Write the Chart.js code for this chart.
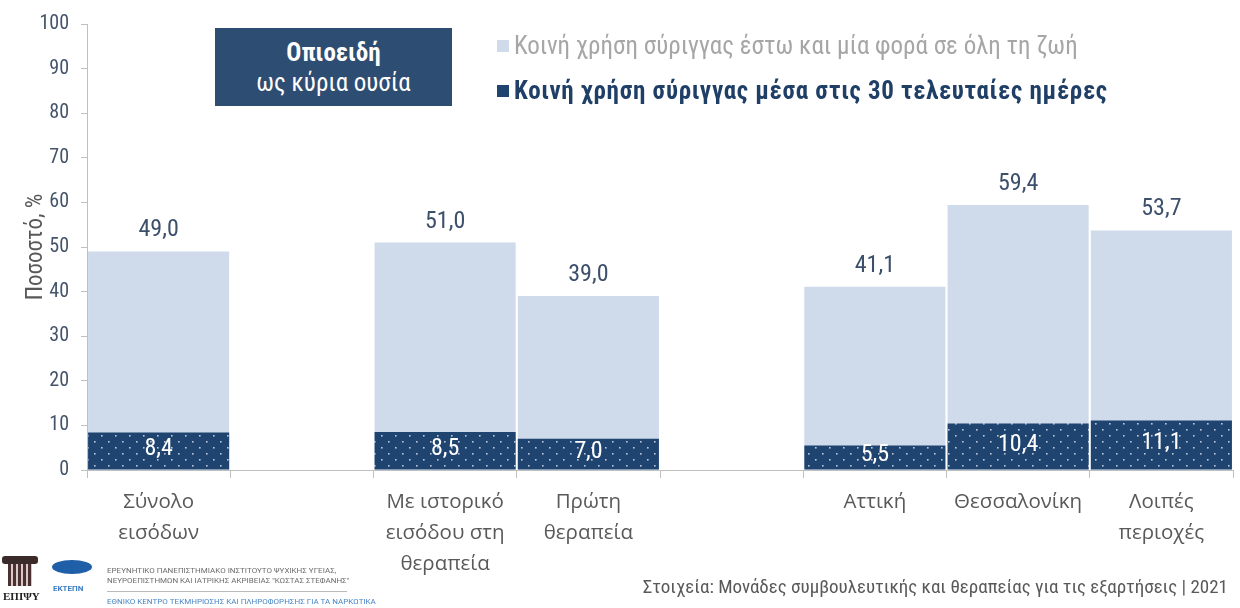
<!DOCTYPE html>
<html>
<head>
<meta charset="utf-8">
<script src="https://cdn.jsdelivr.net/npm/chart.js@4"></script>
<style>
  html, body { margin: 0; padding: 0; background: #fff; }
  #wrap { position: relative; width: 1240px; height: 608px; overflow: hidden; }
  canvas { position: absolute; left: 0; top: 0; }
  .narrow { font-family: "Liberation Sans Narrow", "Roboto Condensed", Roboto, sans-serif; }
  #box { position: absolute; left: 215px; top: 28px; width: 237px; height: 78px; background: #2e4d73; color: #fff; text-align: center; }
  #box .t1 { font-weight: bold; font-size: 25px; margin-top: 10px; line-height: 30px; }
  #box .t2 { font-size: 25px; line-height: 30px; }
  .leg { position: absolute; left: 497px; font-size: 25px; white-space: nowrap; }
  .leg i { display: inline-block; width: 12px; height: 12px; margin-right: 5px; vertical-align: 2px; }
  #src { position: absolute; right: 12px; top: 575px; font-size: 19px; color: #595959; }
  #inst { position: absolute; left: 107px; top: 566px; font-size: 8px; color: #6d6d6d; line-height: 10px; white-space: nowrap; font-family: "Liberation Sans Narrow", Roboto, sans-serif; }
  #inst .ek { border-top: 1px solid #bbb; margin-top: 5px; padding-top: 5px; width: 240px; color: #4a86c5; }
</style>
</head>
<body>
<div id="wrap">
  <canvas id="c" width="1240" height="608"></canvas>
  <div id="box" class="narrow"><div class="t1">Οπιοειδή</div><div class="t2">ως κύρια ουσία</div></div>
  <div class="leg narrow" style="top:31px;color:#a6a6a6"><i style="background:#cfdbeb"></i>Κοινή χρήση σύριγγας έστω και μία φορά σε όλη τη ζωή</div>
  <div class="leg narrow" style="top:76px;color:#1f3f66;font-weight:bold;letter-spacing:0.7px"><i style="background:#1f4470"></i>Κοινή χρήση σύριγγας μέσα στις 30 τελευταίες ημέρες</div>
  <div id="src" class="narrow">Στοιχεία: Μονάδες συμβουλευτικής και θεραπείας για τις εξαρτήσεις | 2021</div>
  <div id="inst">ΕΡΕΥΝΗΤΙΚΟ ΠΑΝΕΠΙΣΤΗΜΙΑΚΟ ΙΝΣΤΙΤΟΥΤΟ ΨΥΧΙΚΗΣ ΥΓΕΙΑΣ,<br>ΝΕΥΡΟΕΠΙΣΤΗΜΩΝ ΚΑΙ ΙΑΤΡΙΚΗΣ ΑΚΡΙΒΕΙΑΣ "ΚΩΣΤΑΣ ΣΤΕΦΑΝΗΣ"<div class="ek">ΕΘΝΙΚΟ ΚΕΝΤΡΟ ΤΕΚΜΗΡΙΩΣΗΣ ΚΑΙ ΠΛΗΡΟΦΟΡΗΣΗΣ ΓΙΑ ΤΑ ΝΑΡΚΩΤΙΚΑ</div></div>
  <div style="position:absolute;left:2px;top:556px;width:36px;height:8px;background:#3a2a2a;border-radius:3px"></div>
  <div style="position:absolute;left:8px;top:564px;width:24px;height:22px;background:repeating-linear-gradient(90deg,#4a3030 0 3px,#d8c8c8 3px 5px)"></div>
  <div style="position:absolute;left:3px;top:590px;font:bold 11px 'Liberation Serif',serif;color:#222">ΕΠΙΨΥ</div>
  <div style="position:absolute;left:52px;top:560px;width:40px;height:14px;border-radius:50%;background:#1f5fa8"></div>
  <div style="position:absolute;left:53px;top:584px;font:bold 8px Roboto,sans-serif;color:#3b7dc4">ΕΚΤΕΠΝ</div>
</div>
<script>
const categories = [['Σύνολο', 'εισόδων'], '', ['Με ιστορικό', 'εισόδου στη', 'θεραπεία'], ['Πρώτη', 'θεραπεία'], '', 'Αττική', 'Θεσσαλονίκη', ['Λοιπές', 'περιοχές']];
const everValues = [49.0, null, 51.0, 39.0, null, 41.1, 59.4, 53.7];
const last30Values = [8.4, null, 8.5, 7.0, null, 5.5, 10.4, 11.1];
const yTicks = [0, 10, 20, 30, 40, 50, 60, 70, 80, 90, 100];

const NARROW = '"Liberation Sans Narrow", "Roboto Condensed", Roboto, sans-serif';

// dotted fill for the dark bars
function dotPattern(ctx) {
    const p = document.createElement('canvas');
    p.width = 14; p.height = 12;
    const g = p.getContext('2d');
    g.fillStyle = '#1f4470';
    g.fillRect(0, 0, 14, 12);
    g.fillStyle = 'rgba(225,235,248,0.8)';
    g.fillRect(3, 3, 1.6, 1.6);
    g.fillRect(10, 9, 1.6, 1.6);
    return ctx.createPattern(p, 'repeat');
}

const fmt = v => v.toFixed(1).replace('.', ',');

const valueLabels = {
    id: 'valueLabels',
    afterDatasetsDraw(chart) {
        const ctx = chart.ctx;
        ctx.save();
        ctx.textAlign = 'center';
        ctx.textBaseline = 'middle';
        ctx.font = '24px ' + NARROW;
        chart.getDatasetMeta(0).data.forEach((bar, i) => {
            const v = everValues[i];
            if (v == null) return;
            ctx.fillStyle = '#3c4f6b';
            ctx.fillText(fmt(v), bar.x, bar.y - 21);
        });
        chart.getDatasetMeta(1).data.forEach((bar, i) => {
            const v = last30Values[i];
            if (v == null) return;
            ctx.fillStyle = '#ffffff';
            ctx.fillText(fmt(v), bar.x, (bar.y + bar.base) / 2 - 2);
        });
        ctx.restore();
    }
};

const ctx = document.getElementById('c').getContext('2d');
new Chart(ctx, {
    type: 'bar',
    data: {
        labels: categories,
        datasets: [
            {
                label: 'Κοινή χρήση σύριγγας έστω και μία φορά σε όλη τη ζωή',
                data: everValues,
                backgroundColor: '#cfdbeb',
                order: 2
            },
            {
                label: 'Κοινή χρήση σύριγγας μέσα στις 30 τελευταίες ημέρες',
                data: last30Values,
                backgroundColor: dotPattern(ctx),
                order: 1
            }
        ]
    },
    options: {
        responsive: false,
        animation: false,
        layout: { padding: { left: 0, right: 7, top: 22, bottom: 0 } },
        datasets: { bar: { barPercentage: 1, categoryPercentage: 0.985 } },
        plugins: {
            legend: { display: false },
            tooltip: { enabled: false }
        },
        scales: {
            x: {
                stacked: true,
                grid: { display: true, drawOnChartArea: false, offset: true, color: '#bfbfbf', tickLength: 8 },
                border: { color: '#bfbfbf' },
                ticks: {
                    color: '#595959',
                    font: { family: '"Open Sans", "Noto Sans", sans-serif', size: 20.5, lineHeight: 1.5 },
                    padding: 9,
                    maxRotation: 0,
                    autoSkip: false
                },
                afterFit: s => { s.height = 138; }
            },
            y: {
                min: 0,
                max: 100,
                afterBuildTicks: s => { s.ticks = yTicks.map(v => ({ value: v })); },
                grid: { display: true, drawOnChartArea: false, color: '#bfbfbf', tickLength: 6 },
                border: { color: '#bfbfbf' },
                ticks: {
                    color: '#44546a',
                    font: { family: NARROW, size: 20 },
                    padding: 12
                },
                title: {
                    display: true,
                    text: 'Ποσοστό, %',
                    color: '#595959',
                    font: { family: NARROW, size: 23 },
                    padding: { top: 22, bottom: 0 }
                },
                afterFit: s => { s.width = 87; }
            }
        }
    },
    plugins: [valueLabels]
});
</script>
</body>
</html>
